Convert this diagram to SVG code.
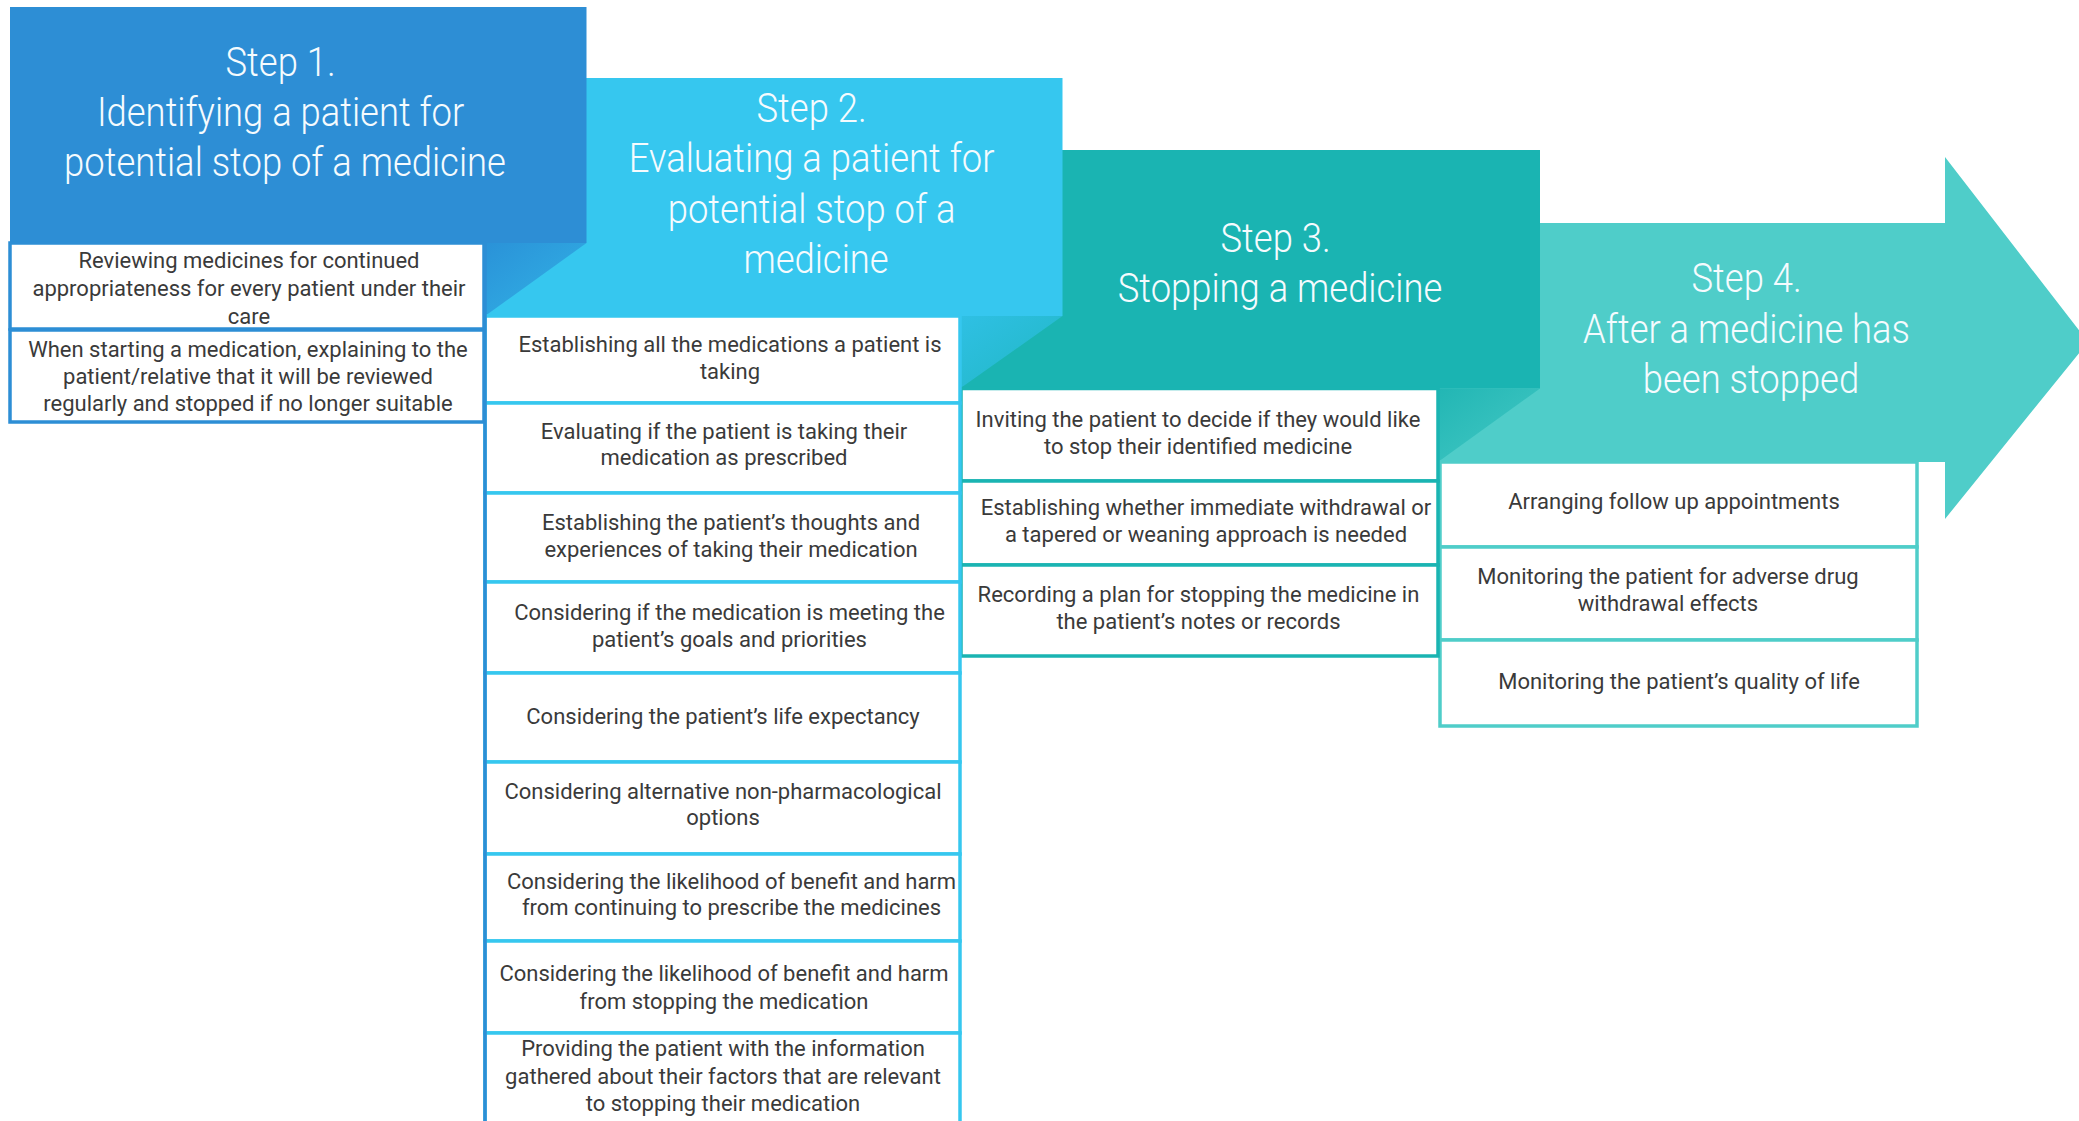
<svg xmlns="http://www.w3.org/2000/svg" width="2079" height="1121" viewBox="0 0 2079 1121">
  <defs>
    <!-- shading where one step folds into the next -->
    <linearGradient id="fold12" x1="0" y1="0" x2="1" y2="1">
      <stop offset="0" stop-color="#2A92D8"/>
      <stop offset="1" stop-color="#32B4E6"/>
    </linearGradient>
    <linearGradient id="fold23" x1="0" y1="0" x2="1" y2="1">
      <stop offset="0" stop-color="#2FC0E4"/>
      <stop offset="1" stop-color="#20B7C3"/>
    </linearGradient>
    <linearGradient id="fold34" x1="0" y1="0" x2="1" y2="1">
      <stop offset="0" stop-color="#22B6B4"/>
      <stop offset="1" stop-color="#45C9C5"/>
    </linearGradient>
    <style>
      .hd { font-family: Roboto, "Liberation Sans", sans-serif; font-weight: 300; font-size: 40px; fill: #F5FBFE; text-anchor: middle; }
      .tx { font-family: Roboto, "Liberation Sans", sans-serif; font-weight: 400; font-size: 22px; fill: #3A3A3A; text-anchor: middle; }
      .cell { fill: #FFFFFF; stroke-width: 3.5; }
      .s1 { stroke: #2D8ED5; }
      .s2 { stroke: #36C7EF; }
      .s3 { stroke: #1AB4B2; }
      .s4 { stroke: #4FCDC9; }
    </style>
  </defs>

  <rect width="2079" height="1121" fill="#FFFFFF"/>

  <!-- ===== Step headers (back to front) ===== -->
  <g id="step4-header">
    <polygon points="1438,223 1945,223 1945,157 2088,342 1945,519 1945,462 1438,462" fill="#4FCDC9"/>
    <text class="hd" transform="translate(1751 0) scale(0.91 1)">
      <tspan x="0" y="292.5">Step 4.</tspan>
      <tspan x="0" y="343">After a medicine has</tspan>
      <tspan x="0" y="393.5">been stopped</tspan>
    </text>
  </g>

  <g id="step3-header">
    <rect x="960" y="150" width="580" height="238.5" fill="#1AB4B2"/>
    <polygon points="1438,388.5 1540,388.5 1438,462" fill="url(#fold34)"/>
    <text class="hd" transform="translate(1280 0) scale(0.91 1)">
      <tspan x="0" y="252">Step 3.</tspan>
      <tspan x="0" y="302">Stopping a medicine</tspan>
    </text>
  </g>

  <g id="step2-header">
    <rect x="485" y="78" width="577.5" height="238" fill="#36C7EF"/>
    <polygon points="960,316 1062.5,316 960,388.5" fill="url(#fold23)"/>
    <text class="hd" transform="translate(816 0) scale(0.91 1)">
      <tspan x="0" y="122">Step 2.</tspan>
      <tspan x="0" y="172.5">Evaluating a patient for</tspan>
      <tspan x="0" y="223">potential stop of a</tspan>
      <tspan x="0" y="273">medicine</tspan>
    </text>
  </g>

  <g id="step1-header">
    <rect x="10" y="7" width="576.5" height="236" fill="#2D8ED5"/>
    <polygon points="485,243 586.5,243 485,316" fill="url(#fold12)"/>
    <text class="hd" transform="translate(285 0) scale(0.91 1)">
      <tspan x="0" y="76">Step 1.</tspan>
      <tspan x="0" y="126.5">Identifying a patient for</tspan>
      <tspan x="0" y="176">potential stop of a medicine</tspan>
    </text>
  </g>

  <!-- ===== Step 4 tasks ===== -->
  <g id="s4-follow-up">
    <rect class="cell s4" x="1440" y="462" width="477" height="85"/>
    <text class="tx" x="1674" y="508.5">Arranging follow up appointments</text>
  </g>
  <g id="s4-adverse-effects">
    <rect class="cell s4" x="1440" y="547" width="477" height="93"/>
    <text class="tx"><tspan x="1668" y="584">Monitoring the patient for adverse drug</tspan><tspan x="1668" y="611">withdrawal effects</tspan></text>
  </g>
  <g id="s4-quality-of-life">
    <rect class="cell s4" x="1440" y="640" width="477" height="86"/>
    <text class="tx" x="1679" y="688.5">Monitoring the patient’s quality of life</text>
  </g>

  <!-- ===== Step 3 tasks ===== -->
  <g id="s3-invite">
    <rect class="cell s3" x="961" y="388.5" width="477" height="92.5"/>
    <text class="tx"><tspan x="1198" y="427">Inviting the patient to decide if they would like</tspan><tspan x="1198" y="454">to stop their identified medicine</tspan></text>
  </g>
  <g id="s3-approach">
    <rect class="cell s3" x="961" y="481" width="477" height="84"/>
    <text class="tx"><tspan x="1206" y="515">Establishing whether immediate withdrawal or</tspan><tspan x="1206" y="542">a tapered or weaning approach is needed</tspan></text>
  </g>
  <g id="s3-plan">
    <rect class="cell s3" x="961" y="565" width="477" height="91"/>
    <text class="tx"><tspan x="1198.5" y="602">Recording a plan for stopping the medicine in</tspan><tspan x="1198.5" y="628.5">the patient’s notes or records</tspan></text>
  </g>

  <!-- ===== Step 2 tasks ===== -->
  <g id="s2-all-medications">
    <rect class="cell s2" x="485" y="316" width="475" height="87"/>
    <text class="tx"><tspan x="730" y="352">Establishing all the medications a patient is</tspan><tspan x="730" y="378.5">taking</tspan></text>
  </g>
  <g id="s2-adherence">
    <rect class="cell s2" x="485" y="403" width="475" height="90"/>
    <text class="tx"><tspan x="724" y="438.5">Evaluating if the patient is taking their</tspan><tspan x="724" y="465">medication as prescribed</tspan></text>
  </g>
  <g id="s2-experiences">
    <rect class="cell s2" x="485" y="493" width="475" height="89"/>
    <text class="tx"><tspan x="731" y="530">Establishing the patient’s thoughts and</tspan><tspan x="731" y="557">experiences of taking their medication</tspan></text>
  </g>
  <g id="s2-goals">
    <rect class="cell s2" x="485" y="582" width="475" height="91"/>
    <text class="tx"><tspan x="729.5" y="620">Considering if the medication is meeting the</tspan><tspan x="729.5" y="647">patient’s goals and priorities</tspan></text>
  </g>
  <g id="s2-life-expectancy">
    <rect class="cell s2" x="485" y="673" width="475" height="89"/>
    <text class="tx" x="723" y="723.5">Considering the patient’s life expectancy</text>
  </g>
  <g id="s2-alternatives">
    <rect class="cell s2" x="485" y="762" width="475" height="92"/>
    <text class="tx"><tspan x="723" y="798.5">Considering alternative non-pharmacological</tspan><tspan x="723" y="825">options</tspan></text>
  </g>
  <g id="s2-continuing">
    <rect class="cell s2" x="485" y="854" width="475" height="87"/>
    <text class="tx"><tspan x="731.5" y="888.5">Considering the likelihood of benefit and harm</tspan><tspan x="731.5" y="915">from continuing to prescribe the medicines</tspan></text>
  </g>
  <g id="s2-stopping">
    <rect class="cell s2" x="485" y="941" width="475" height="92"/>
    <text class="tx"><tspan x="724" y="981">Considering the likelihood of benefit and harm</tspan><tspan x="724" y="1008.5">from stopping the medication</tspan></text>
  </g>
  <g id="s2-information">
    <rect class="cell s2" x="485" y="1033" width="475" height="100"/>
    <text class="tx"><tspan x="723" y="1056">Providing the patient with the information</tspan><tspan x="723" y="1083.5">gathered about their factors that are relevant</tspan><tspan x="723" y="1111">to stopping their medication</tspan></text>
  </g>

  <!-- ===== Step 1 tasks ===== -->
  <g id="s1-review">
    <rect class="cell s1" x="10" y="243" width="474" height="86"/>
    <text class="tx"><tspan x="249" y="268">Reviewing medicines for continued</tspan><tspan x="249" y="296">appropriateness for every patient under their</tspan><tspan x="249" y="323.5">care</tspan></text>
  </g>
  <g id="s1-explain">
    <rect class="cell s1" x="10" y="330" width="474" height="92"/>
    <text class="tx"><tspan x="248" y="356.5">When starting a medication, explaining to the</tspan><tspan x="248" y="383.5">patient/relative that it will be reviewed</tspan><tspan x="248" y="411">regularly and stopped if no longer suitable</tspan></text>
  </g>

  <!-- column rule between the first two task lists -->
  <line x1="485" y1="243" x2="485" y2="1121" stroke="#2D8ED5" stroke-width="3.5"/>
</svg>
